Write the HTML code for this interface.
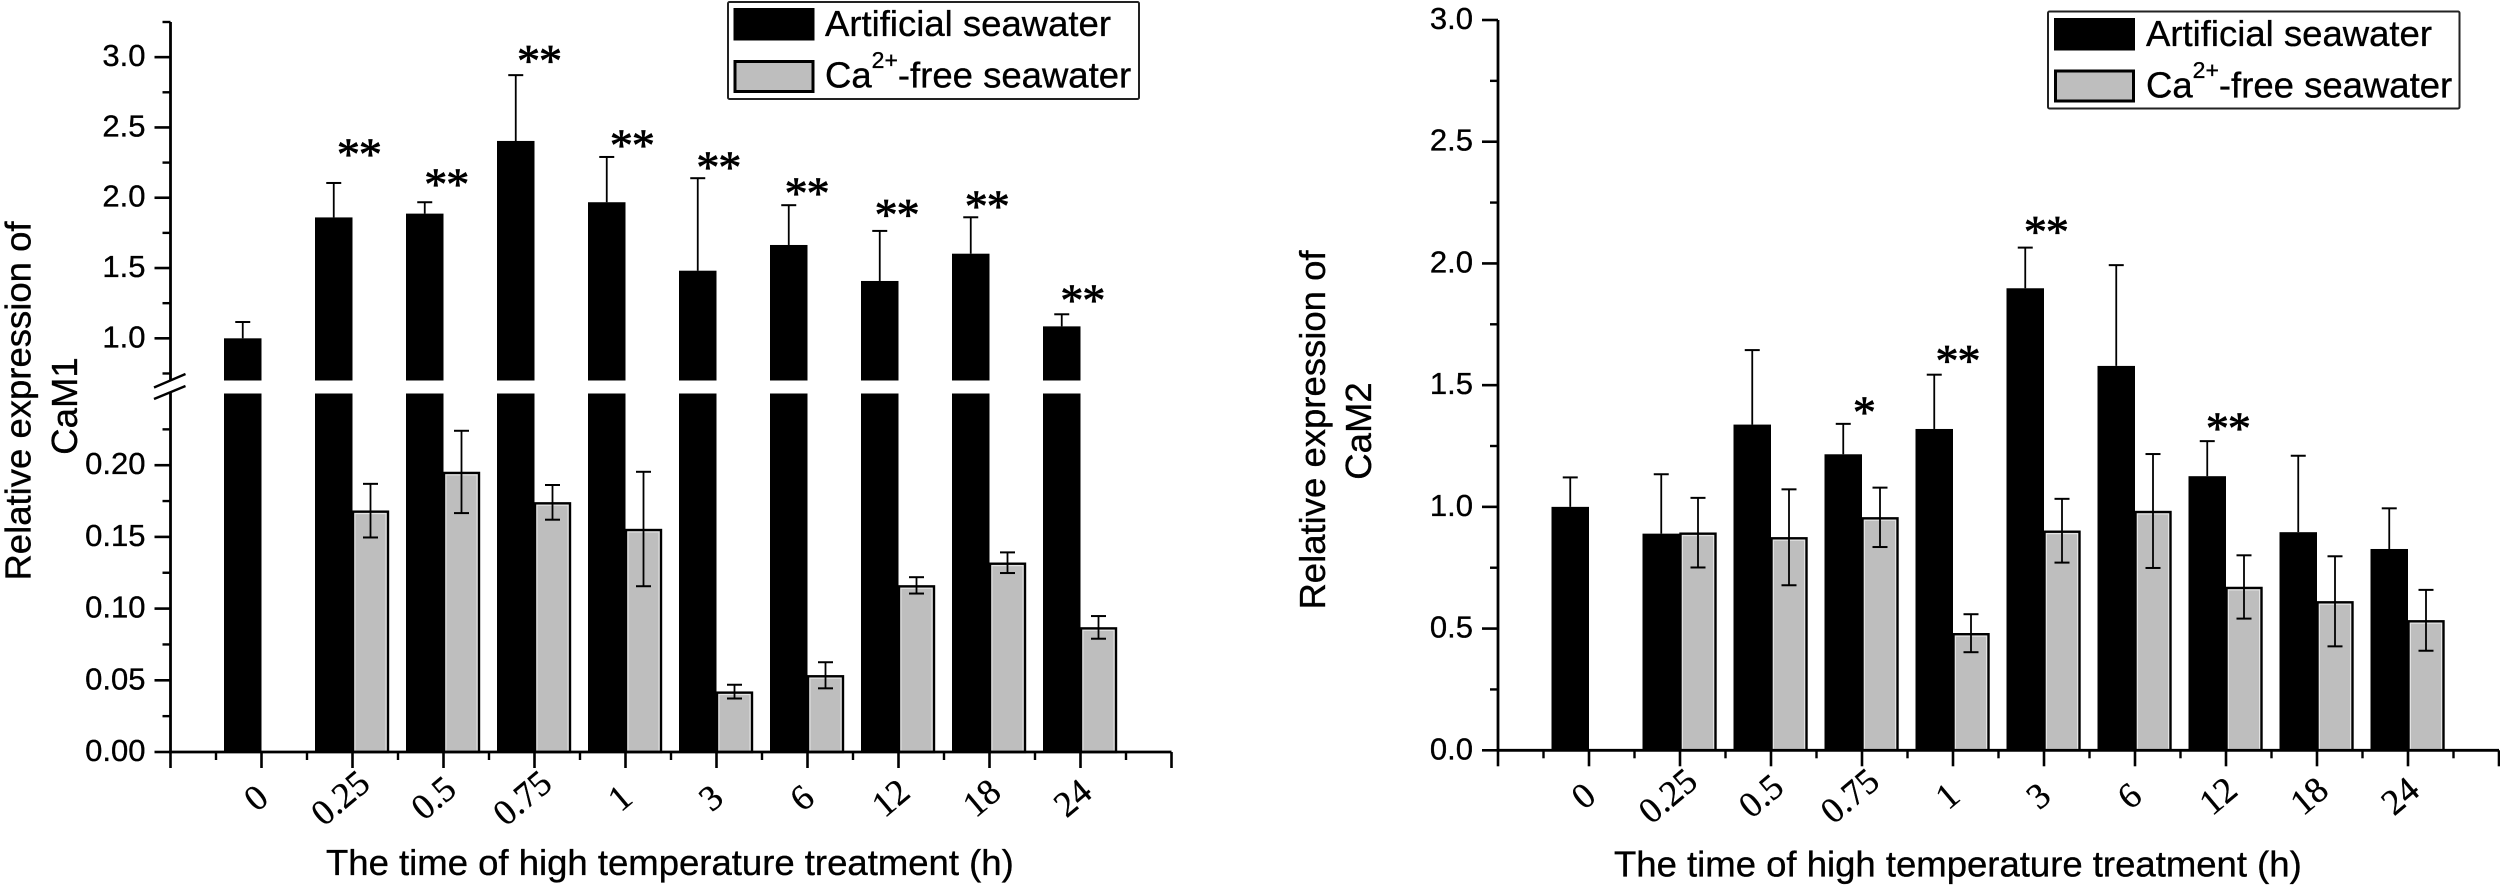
<!DOCTYPE html>
<html lang="en">
<head>
<meta charset="utf-8">
<title>Relative expression of CaM1 and CaM2</title>
<style>
  html, body { margin: 0; padding: 0; background: #fff; }
  body { width: 2500px; height: 886px; overflow: hidden; }
  svg { display: block; }
  text { font-family: "Liberation Sans", sans-serif; fill: #000; stroke: #000; stroke-width: 0.35px; }
  .tick-label { font-size: 31px; text-anchor: end; }
  .axis-title { font-size: 36.5px; }
  .cat-label { font-family: "Liberation Serif", serif; font-size: 36px; text-anchor: middle; }
  .star { font-family: "Liberation Serif", serif; font-size: 46px; text-anchor: middle; letter-spacing: -1px; stroke-width: 0.8px; }
  .legend-text { font-size: 36.5px; }
</style>
</head>
<body>
<svg id="figure" xmlns="http://www.w3.org/2000/svg" width="2500" height="886" viewBox="0 0 2500 886">
  <rect x="0" y="0" width="2500" height="886" fill="#fff"/>

  <g id="cam1-chart">
    <g>
      <text class="axis-title" transform="translate(30.5,401) rotate(-90)" text-anchor="middle">Relative expression of</text>
      <text class="axis-title" transform="translate(77,406) rotate(-90)" text-anchor="middle">CaM1</text>
    </g>
    <text class="axis-title" x="326" y="875">The time of high temperature treatment (h)</text>
    <g>
      <rect x="728" y="2" width="411" height="97" rx="1.5" fill="#fff" stroke="#222" stroke-width="2"/>
      <rect x="733.5" y="8" width="81" height="32.5" fill="#000"/>
      <rect x="735" y="61.5" width="78" height="30" fill="#bebebe" stroke="#000" stroke-width="3"/>
      <text class="legend-text" x="825" y="36">Artificial seawater</text>
      <text class="legend-text" x="825" y="87.5">Ca<tspan font-size="23" dy="-19.5">2+</tspan><tspan dy="19.5">-free seawater</tspan></text>
    </g>
  </g>

  <g id="cam2-chart">
    <g>
      <text class="axis-title" transform="translate(1325,430) rotate(-90)" text-anchor="middle">Relative expression of</text>
      <text class="axis-title" transform="translate(1371,431) rotate(-90)" text-anchor="middle">CaM2</text>
    </g>
    <text class="axis-title" x="1614" y="876.5">The time of high temperature treatment (h)</text>
    <g>
      <rect x="2048" y="11.5" width="411.5" height="97" rx="1.5" fill="#fff" stroke="#222" stroke-width="2"/>
      <rect x="2054" y="18" width="81" height="32.5" fill="#000"/>
      <rect x="2055.5" y="71" width="78" height="30" fill="#bebebe" stroke="#000" stroke-width="3"/>
      <text class="legend-text" x="2146" y="46">Artificial seawater</text>
      <text class="legend-text" x="2146" y="97.5">Ca<tspan font-size="23" dy="-19.5">2+</tspan><tspan dy="19.5">-free seawater</tspan></text>
    </g>
  </g>
</svg>

<script>
// ---------- shared categories ----------
const categories = ['0', '0.25', '0.5', '0.75', '1', '3', '6', '12', '18', '24'];

// ---------- CaM1 data ----------
const cam1ArtificialMeans = [1.0, 1.86, 1.887, 2.404, 1.968, 1.481, 1.664, 1.408, 1.602, 1.085];
const cam1ArtificialErrors = [0.116, 0.245, 0.081, 0.468, 0.322, 0.658, 0.283, 0.356, 0.259, 0.086];
const cam1CaFreeMeans = [null, 0.1683, 0.1953, 0.1741, 0.1555, 0.0421, 0.0535, 0.1162, 0.132, 0.0869];
const cam1CaFreeErrors = [null, 0.0187, 0.0287, 0.0121, 0.0399, 0.0048, 0.0091, 0.0057, 0.0072, 0.0079];
const cam1UpperTicks = [1.0, 1.5, 2.0, 2.5, 3.0];
const cam1UpperTickLabels = ['1.0', '1.5', '2.0', '2.5', '3.0'];
const cam1UpperMinorTicks = [0.75, 1.25, 1.75, 2.25, 2.75, 3.25];
const cam1LowerTicks = [0, 0.05, 0.10, 0.15, 0.20];
const cam1LowerTickLabels = ['0.00', '0.05', '0.10', '0.15', '0.20'];
const cam1LowerMinorTicks = [0.025, 0.075, 0.125, 0.175, 0.225];
const cam1StarMarks = ['**', '**', '**', '**', '**', '**', '**', '**', '**'];
const cam1StarCategories = [1.07, 2.03, 3.05, 4.07, 5.02, 5.99, 6.98, 7.97, 9.02];
const cam1StarValues = [2.351, 2.137, 3.016, 2.416, 2.258, 2.073, 1.92, 1.982, 1.312];

// ---------- CaM2 data ----------
const cam2ArtificialMeans = [1.0, 0.89, 1.338, 1.216, 1.32, 1.898, 1.579, 1.126, 0.896, 0.827];
const cam2ArtificialErrors = [0.121, 0.244, 0.306, 0.125, 0.223, 0.167, 0.414, 0.144, 0.314, 0.167];
const cam2CaFreeMeans = [null, 0.894, 0.875, 0.957, 0.481, 0.902, 0.983, 0.671, 0.612, 0.534];
const cam2CaFreeErrors = [null, 0.143, 0.197, 0.122, 0.078, 0.131, 0.234, 0.13, 0.185, 0.125];
const cam2Ticks = [0, 0.5, 1.0, 1.5, 2.0, 2.5, 3.0];
const cam2TickLabels = ['0.0', '0.5', '1.0', '1.5', '2.0', '2.5', '3.0'];
const cam2MinorTicks = [0.25, 0.75, 1.25, 1.75, 2.25, 2.75];
const cam2StarMarks = ['*', '**', '**', '**'];
const cam2StarCategories = [3.02, 4.05, 5.02, 7.02];
const cam2StarValues = [1.412, 1.624, 2.154, 1.347];

// ---------- axis functions ----------
const STEP = 91;
function cam1X(c) { return 170.5 + STEP * (c + 1); }
function cam2X(c) { return 1498 + STEP * (c + 1); }
const BREAK_LOW = 0.25;
const BREAK_HIGH = 0.7;
function cam1Y(v) {
  if (v <= BREAK_LOW) { return 752 - (v / BREAK_LOW) * (752 - 393.5); }
  return 380.5 - ((v - BREAK_HIGH) / (3.25 - BREAK_HIGH)) * (380.5 - 22);
}
function cam2Y(v) { return 750.3 - (v / 3) * (750.3 - 20); }

// ---------- svg helpers ----------
const NS = 'http://www.w3.org/2000/svg';
function make(parent, tag, attrs, content) {
  const node = document.createElementNS(NS, tag);
  for (const k in attrs) { node.setAttribute(k, attrs[k]); }
  if (content !== undefined) { node.textContent = content; }
  parent.appendChild(node);
  return node;
}
function line(parent, x1, y1, x2, y2, w, name) {
  const el = make(parent, 'line', { x1: x1, y1: y1, x2: x2, y2: y2, stroke: '#000', 'stroke-width': w });
  
  
  return el;
}

function drawYTicks(parent, prefix, axisX, yFn, ticks, labels, minorTicks) {
  ticks.forEach(function (v, i) {
    line(parent, axisX - 16, yFn(v), axisX, yFn(v), 2.6, prefix + '-y-tick-' + labels[i]);
    const el = make(parent, 'text', { class: 'tick-label', x: axisX - 25, y: yFn(v) + 9 }, labels[i]);
    
    
  });
  minorTicks.forEach(function (v) {
    line(parent, axisX - 8, yFn(v), axisX, yFn(v), 2.4, prefix + '-y-minor-tick');
  });
}

function drawXAxis(parent, prefix, xFn, baseY, labelY) {
  line(parent, xFn(-1) - 1.3, baseY, xFn(10), baseY, 2.8, prefix + '-x-axis-line');
  line(parent, xFn(-1), baseY, xFn(-1), baseY + 16, 2.6, prefix + '-x-axis-start-tick');
  line(parent, xFn(10), baseY, xFn(10), baseY + 16, 2.6, prefix + '-x-axis-end-tick');
  for (let m = -0.5; m < 10; m += 1) {
    line(parent, xFn(m), baseY, xFn(m), baseY + 8, 2.4, prefix + '-x-minor-tick');
  }
  categories.forEach(function (c, i) {
    line(parent, xFn(i), baseY, xFn(i), baseY + 16, 2.6, prefix + '-x-tick-' + c);
    const cx = xFn(i) + 2 - (c.length - 1) * 2.2;
    const el = make(parent, 'text', { class: 'cat-label', transform: 'translate(' + cx + ',' + (labelY + 12) + ') rotate(-40)' }, c);
    
    
  });
}

function drawSeries(parent, prefix, xFn, yFn, baseY, artMeans, artErrs, caMeans, caErrs, gap) {
  const W = 37.5;
  const W2 = 36;
  const CAP = 7.5;
  categories.forEach(function (c, i) {
    const tx = xFn(i);
    const top = yFn(artMeans[i]);
    if (gap) {
      const lower = make(parent, 'rect', { x: tx - W, y: gap.lower, width: W, height: baseY - gap.lower, fill: '#000' });
      
      
      const upper = make(parent, 'rect', { x: tx - W, y: top, width: W, height: gap.upper - top, fill: '#000' });
      
      
    } else {
      const bar = make(parent, 'rect', { x: tx - W, y: top, width: W, height: baseY - top, fill: '#000' });
      
      
    }
    const ex = tx - W / 2;
    const eTop = yFn(artMeans[i] + artErrs[i]);
    line(parent, ex, top, ex, eTop, 1.8, prefix + '-artificial-error-stem-' + c);
    line(parent, ex - CAP, eTop, ex + CAP, eTop, 2, prefix + '-artificial-error-cap-' + c);

    if (caMeans[i] !== null) {
      const gTop = yFn(caMeans[i]);
      const gBar = make(parent, 'rect', { x: tx + 0.5, y: gTop + 1, width: W2 - 1, height: baseY - gTop - 1, fill: '#e4e4e4', stroke: '#000', 'stroke-width': 2.4 });
      
      
      const gFill = make(parent, 'rect', { x: tx + 3, y: gTop + 3.5, width: W2 - 6, height: baseY - gTop - 5, fill: '#bebebe' });
      
      
      const gx = tx + W2 / 2;
      const hi = yFn(caMeans[i] + caErrs[i]);
      const lo = yFn(caMeans[i] - caErrs[i]);
      line(parent, gx, hi, gx, lo, 1.8, prefix + '-ca-free-error-stem-' + c);
      line(parent, gx - CAP, hi, gx + CAP, hi, 2, prefix + '-ca-free-error-cap-top-' + c);
      line(parent, gx - CAP, lo, gx + CAP, lo, 2, prefix + '-ca-free-error-cap-bottom-' + c);
    }
  });
}

function drawStars(parent, prefix, xFn, yFn, marks, cats, vals) {
  marks.forEach(function (m, i) {
    const el = make(parent, 'text', { class: 'star', x: xFn(cats[i]), y: yFn(vals[i]) + 21 }, m);
    
    
  });
}

// ---------- CaM1 chart ----------
const chart1 = document.getElementById('cam1-chart');
const gap1 = { upper: 380.5, lower: 393.5 };
drawSeries(chart1, 'cam1', cam1X, cam1Y, 752, cam1ArtificialMeans, cam1ArtificialErrors, cam1CaFreeMeans, cam1CaFreeErrors, gap1);
line(chart1, 170.5, cam1Y(3.25), 170.5, 380.5, 2.8, 'cam1-y-axis-upper');
line(chart1, 170.5, 392.5, 170.5, 752, 2.8, 'cam1-y-axis-lower');
line(chart1, 154, 387.5, 185.5, 374, 2.4, 'cam1-axis-break-upper');
line(chart1, 154, 399, 185.5, 386, 2.4, 'cam1-axis-break-lower');
drawYTicks(chart1, 'cam1', 170.5, cam1Y, cam1UpperTicks, cam1UpperTickLabels, cam1UpperMinorTicks);
drawYTicks(chart1, 'cam1', 170.5, cam1Y, cam1LowerTicks, cam1LowerTickLabels, cam1LowerMinorTicks);
drawXAxis(chart1, 'cam1', cam1X, 752, 795);
drawStars(chart1, 'cam1', cam1X, cam1Y, cam1StarMarks, cam1StarCategories, cam1StarValues);

// ---------- CaM2 chart ----------
const chart2 = document.getElementById('cam2-chart');
drawSeries(chart2, 'cam2', cam2X, cam2Y, 750.3, cam2ArtificialMeans, cam2ArtificialErrors, cam2CaFreeMeans, cam2CaFreeErrors, null);
line(chart2, 1498, cam2Y(3), 1498, 750.3, 2.8, 'cam2-y-axis');
drawYTicks(chart2, 'cam2', 1498, cam2Y, cam2Ticks, cam2TickLabels, cam2MinorTicks);
drawXAxis(chart2, 'cam2', cam2X, 750.3, 793);
drawStars(chart2, 'cam2', cam2X, cam2Y, cam2StarMarks, cam2StarCategories, cam2StarValues);
</script>
</body>
</html>
